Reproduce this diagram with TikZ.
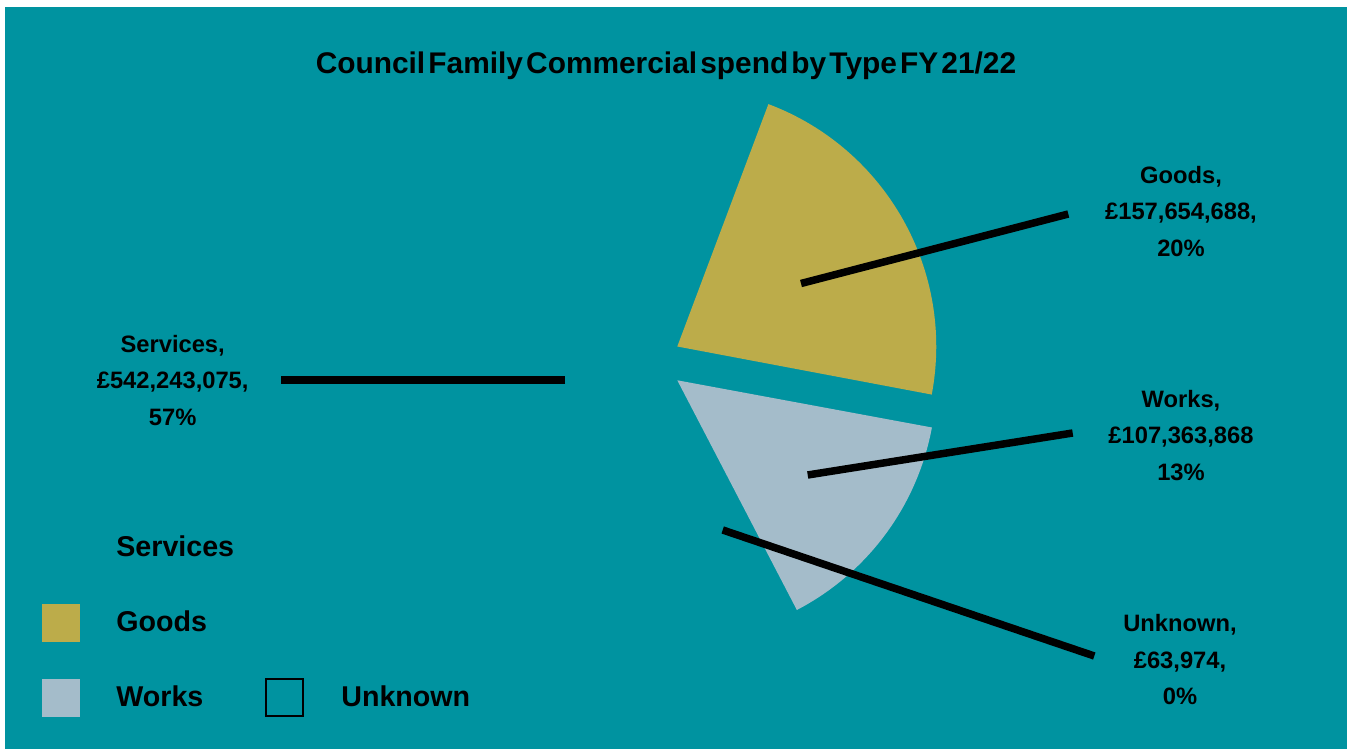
\documentclass[tikz,border=0pt]{standalone}
\usepackage{fontspec}
\setmainfont{Liberation Sans}
\usetikzlibrary{positioning}
\definecolor{chartbg}{RGB}{0,147,160}
\definecolor{goodsc}{RGB}{188,172,74}
\definecolor{worksc}{RGB}{164,188,202}

\begin{document}
\begin{tikzpicture}[x=0.02cm,y=-0.02cm,
        lbl/.style={font=\fontsize{13.5}{20.9}\selectfont\bfseries,align=center,inner sep=0pt,anchor=north},
        leg/.style={font=\fontsize{16.3}{20}\selectfont\bfseries,inner sep=0pt,anchor=base west},
        leader/.style={line width=0.15cm}]
            \useasboundingbox (0,0) rectangle (1347,749);
            \fill[white] (0,0) rectangle (1347,749);
            \fill[chartbg] (5,7) rectangle (1347,749);
            \node[inner sep=0pt,anchor=base,font=\fontsize{17}{20}\selectfont\bfseries] (title) at (666,73.3)
                {\spaceskip=1.8pt Council Family Commercial spend by Type FY 21/22};
            % slices (services has the background colour)
            \def\rad{5.18cm}
            \coordinate (gapex) at (677.3,346.5);
            \coordinate (wapex) at (677.3,380.3);
            \fill[goodsc] (gapex) -- ++(-10.7:\rad) arc[start angle=-10.7,end angle=69.4,radius=\rad] -- cycle;
            \fill[worksc] (wapex) -- ++(-62.5:\rad) arc[start angle=-62.5,end angle=-10.5,radius=\rad] -- cycle;
            % data labels
            \node[lbl] (goodslbl) at (1181,165.5) {Goods,\\£157,654,688,\\20\%};
            \node[lbl] (workslbl) at (1181,389.7) {Works,\\£107,363,868\\13\%};
            \node[lbl] (unknownlbl) at (1180,614) {Unknown,\\£63,974,\\0\%};
            \node[lbl] (serviceslbl) at (172.7,334.7) {Services,\\£542,243,075,\\57\%};
            \coordinate (goodsin) at (801,283.5);
            \coordinate (goodsout) at (1068.3,214);
            \coordinate (worksin) at (807.7,475);
            \coordinate (worksout) at (1072.7,433);
            \coordinate (unknownin) at (722.7,530);
            \coordinate (unknownout) at (1094.3,656);
            \coordinate (servicesin) at (565,380);
            \coordinate (servicesout) at (281,380);
            \draw[leader] (goodsin) -- (goodsout);
            \draw[leader] (worksin) -- (worksout);
            \draw[leader] (unknownin) -- (unknownout);
            \draw[leader] (servicesin) -- (servicesout);
            % legend
            \fill[goodsc] (42,604) rectangle (80,642);
            \fill[worksc] (42,679) rectangle (80,717);
            \draw[line width=0.04cm] (266,679) rectangle (303,716);
            \node[leg] (servicesleg) at (116,557) {Services};
            \node[leg] (goodsleg) at (116,632) {Goods};
            \node[leg] (worksleg) at (116,707) {Works};
            \node[leg] (unknownleg) at (341,707) {Unknown};
        \end{tikzpicture}
\end{document}
